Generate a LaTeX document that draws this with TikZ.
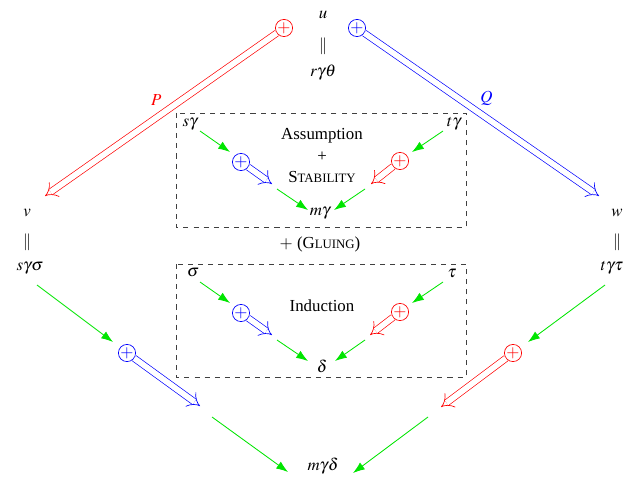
\documentclass[tikz,border=0pt]{standalone}
\usepackage{mathptmx}
\usepackage{fontspec}
\setmainfont{Liberation Serif}
\usetikzlibrary{arrows.meta}
\newcommand{\fsc}[1]{{\fontsize{7.6}{9}\selectfont #1}}
\begin{document}
\begin{tikzpicture}[x=0.593pt,y=-0.593pt,
  op/.style={circle, draw, inner sep=0pt, minimum size=9.4pt, font=\normalsize},
  dbl/.style={double, double distance=3.4pt, line width=0.4pt, -{Implies}},
  grn/.style={green!90!black, line width=0.5pt, -{Latex[length=7pt,width=5pt]}},
  bx/.style={draw=black!75, dashed, line width=0.5pt},
  lbl/.style={inner sep=1pt}]
\useasboundingbox (0,0) rectangle (629,488);
% top
\node[lbl] (u) at (323,15) {$u$};
\node[lbl] (ueq) at (323,46) {$\Vert$};
\node[lbl] (r) at (323,73) {$r\gamma\theta$};
% left
\node[lbl] (v) at (27,213) {$v$};
\node[lbl] (veq) at (27,242) {$\Vert$};
\node[lbl] (s) at (30,268) {$s\gamma\sigma$};
% right
\node[lbl] (w) at (617,213) {$w$};
\node[lbl] (weq) at (617,242) {$\Vert$};
\node[lbl] (t) at (612,268) {$t\gamma\tau$};
% bottom
\node[lbl] (mgd) at (323,466) {$m\gamma\delta$};

% outer top arrows
\node[op, red] (opP) at (284,28) {$+$};
\coordinate (Pend) at (45,196);
\draw[dbl, red] (opP) -- node[above, pos=0.52, yshift=4pt] {$P$} (Pend);
\node[op, blue] (opQ) at (357,28) {$+$};
\coordinate (Qend) at (599,196);
\draw[dbl, blue] (opQ) -- node[above, pos=0.52, yshift=4pt] {$Q$} (Qend);

% box 1
\draw[bx] (176,113) rectangle (466,227);
\node[lbl] (sg) at (190,124) {$s\gamma$};
\node[lbl] (tg) at (454,124) {$t\gamma$};
\node[lbl] (ass) at (322,136) {Assumption};
\node[lbl] (pl1) at (322,157) {+};
\node[lbl] (stab) at (322,177) {S\fsc{TABILITY}};
\node[lbl] (mg) at (320,213) {$m\gamma$};
\coordinate (a1) at (200,131); \coordinate (a2) at (230,152);
\draw[grn] (a1) -- (a2);
\node[op, blue] (op1) at (241,162) {$+$};
\coordinate (a3) at (272,184);
\draw[dbl, blue] (op1) -- (a3);
\coordinate (a4) at (277,189); \coordinate (a5) at (308,210);
\draw[grn] (a4) -- (a5);
\coordinate (b1) at (443,131); \coordinate (b2) at (412,152);
\draw[grn] (b1) -- (b2);
\node[op, red] (op2) at (400,161) {$+$};
\coordinate (b3) at (371,184);
\draw[dbl, red] (op2) -- (b3);
\coordinate (b4) at (365,189); \coordinate (b5) at (334,210);
\draw[grn] (b4) -- (b5);

% gluing
\node[lbl] (glu) at (320,244) {$+$ (G\fsc{LUING})};

% box 2
\draw[bx] (176,264) rectangle (466,377);
\node[lbl] (sig) at (193,273) {$\sigma$};
\node[lbl] (tau) at (452,273) {$\tau$};
\node[lbl] (ind) at (322,306) {Induction};
\node[lbl] (del) at (322,366) {$\delta$};
\coordinate (c1) at (200,282); \coordinate (c2) at (230,303);
\draw[grn] (c1) -- (c2);
\node[op, blue] (op3) at (241,313) {$+$};
\coordinate (c3) at (272,335);
\draw[dbl, blue] (op3) -- (c3);
\coordinate (c4) at (277,340); \coordinate (c5) at (308,361);
\draw[grn] (c4) -- (c5);
\coordinate (d1) at (443,282); \coordinate (d2) at (412,303);
\draw[grn] (d1) -- (d2);
\node[op, red] (op4) at (400,312) {$+$};
\coordinate (d3) at (370,335);
\draw[dbl, red] (op4) -- (d3);
\coordinate (d4) at (365,340); \coordinate (d5) at (335,361);
\draw[grn] (d4) -- (d5);

% outer bottom
\coordinate (e1) at (37,285); \coordinate (e2) at (113,342);
\draw[grn] (e1) -- (e2);
\node[op, blue] (op5) at (127,353) {$+$};
\coordinate (e3) at (200,406);
\draw[dbl, blue] (op5) -- (e3);
\coordinate (e4) at (212,417); \coordinate (e5) at (288,472);
\draw[grn] (e4) -- (e5);
\coordinate (f1) at (605,285); \coordinate (f2) at (528,342);
\draw[grn] (f1) -- (f2);
\node[op, red] (op6) at (513,353) {$+$};
\coordinate (f3) at (441,407);
\draw[dbl, red] (op6) -- (f3);
\coordinate (f4) at (428,417); \coordinate (f5) at (353,473);
\draw[grn] (f4) -- (f5);
\end{tikzpicture}
\end{document}
